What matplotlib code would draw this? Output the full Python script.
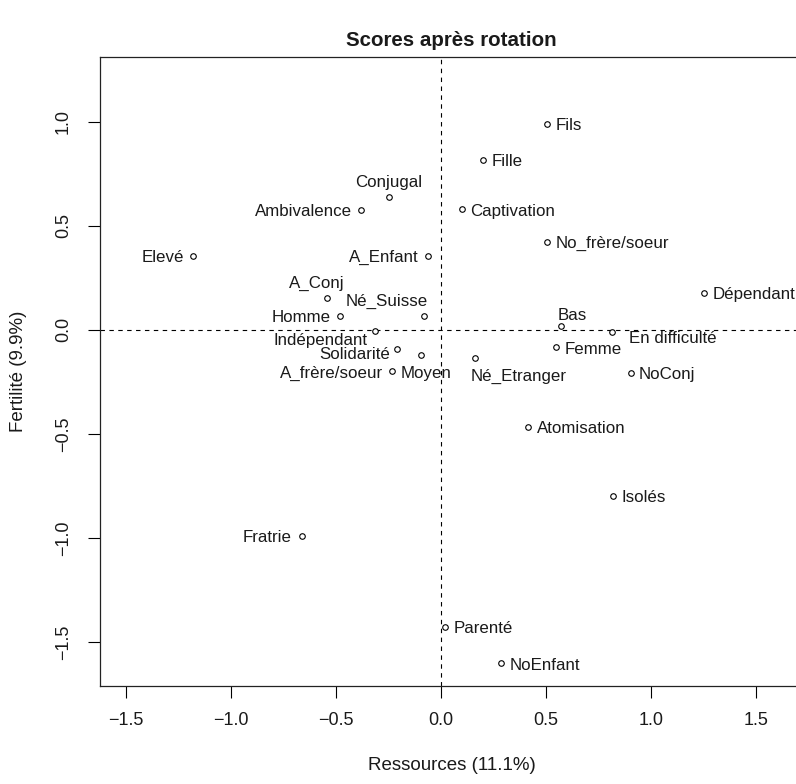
import matplotlib
matplotlib.use("Agg")
import matplotlib.pyplot as plt

# ---- data ----
labels = ["Fils", "Fille", "Conjugal", "Ambivalence", "Captivation", "Elevé",
          "A_Enfant", "No_frère/soeur", "A_Conj", "Dépendant", "Né_Suisse", "Bas",
          "Homme", "En difficulté", "Indépendant", "Femme", "Solidarité", "Moyen",
          "Né_Etranger", "A_frère/soeur", "NoConj", "Atomisation", "Isolés",
          "Fratrie", "Parenté", "NoEnfant"]
x_scores = [0.505, 0.199, -0.249, -0.381, 0.099, -1.181,
            -0.063, 0.505, -0.543, 1.252, -0.079, 0.570,
            -0.483, 0.815, -0.312, 0.548, -0.209, -0.094,
            0.163, -0.235, 0.903, 0.416, 0.820,
            -0.662, 0.020, 0.287]
y_scores = [0.992, 0.819, 0.640, 0.576, 0.579, 0.355,
            0.357, 0.422, 0.152, 0.178, 0.069, 0.017,
            0.069, -0.010, -0.003, -0.084, -0.091, -0.123,
            -0.136, -0.199, -0.208, -0.468, -0.799,
            -0.992, -1.428, -1.603]
x_ticks = [-1.5, -1.0, -0.5, 0.0, 0.5, 1.0, 1.5]
y_ticks = [-1.5, -1.0, -0.5, 0.0, 0.5, 1.0]
title = "Scores après rotation"
xlabel = "Ressources (11.1%)"
ylabel = "Fertilité (9.9%)"

# ---- label placement (pixels: dx, dy of baseline anchor, ha) ----
PX = 0.72  # points per pixel at dpi 100
R = (8.5, -6.2, "left")
L = (-9.0, -6.2, "right")
T = (0.0, 10.0, "center")
place = {
    "Conjugal": T,
    "Ambivalence": L,
    "Elevé": L,
    "A_Enfant": L,
    "A_Conj": (-10.0, 10.0, "center"),
    "Né_Suisse": (3.0, 10.0, "right"),
    "Bas": (-3.0, 6.0, "left"),
    "Homme": L,
    "En difficulté": (17.0, -11.5, "left"),
    "Indépendant": (-8.0, -14.0, "right"),
    "Solidarité": (-7.0, -10.5, "right"),
    "Moyen": (5.0, -22.5, "center"),
    "Né_Etranger": (-5.0, -22.3, "left"),
    "A_frère/soeur": L,
    "Fratrie": (-10.4, -6.2, "right"),
}

plt.rcParams["font.family"] = ["Liberation Sans", "DejaVu Sans"]

fig = plt.figure(figsize=(7.96, 7.84), dpi=100)
W, H = 796.0, 784.0
ax = fig.add_axes([100 / W, (H - 686) / H, 703 / W, 629 / H])
ax.set_xlim(-1.624, 1.724)
ax.set_ylim(-1.712, 1.312)

ax.axhline(0, color="black", lw=0.8, ls=(0, (4, 4)), zorder=1)
ax.axvline(0, color="black", lw=0.8, ls=(0, (4, 4)), zorder=1)

ax.plot(x_scores, y_scores, ls="none", marker="o", ms=4.0, mfc="white",
        mec="black", mew=0.8, zorder=3)

for lab, xv, yv in zip(labels, x_scores, y_scores):
    dx, dy, ha = place.get(lab, R)
    ax.annotate(lab, (xv, yv), xytext=(dx * PX, dy * PX),
                textcoords="offset points", ha=ha, va="baseline",
                fontsize=12.2, color="#1a1a1a")

ax.set_xticks(x_ticks)
ax.set_yticks(y_ticks)
ax.set_xticklabels([f"{v:.1f}".replace("-", "\u2212") for v in x_ticks])
ax.set_yticklabels([f"{v:.1f}".replace("-", "\u2212") for v in y_ticks],
                   rotation=90, va="center")
ax.tick_params(direction="out", length=8.6, width=0.8, labelsize=13,
               colors="black", labelcolor="#1a1a1a")
ax.tick_params(axis="x", pad=10)
ax.tick_params(axis="y", pad=11.5)

for sp in ax.spines.values():
    sp.set_linewidth(0.9)
    sp.set_color("#222222")

ax.set_xlabel(xlabel, fontsize=13.5, color="#1a1a1a")
ax.xaxis.label.set_va("center")
ax.xaxis.set_label_coords((451.7 - 100) / 703, (686 - 765) / 629)
ax.set_ylabel(ylabel, fontsize=13.5, color="#1a1a1a")
ax.yaxis.label.set_va("center")
ax.yaxis.set_label_coords((18.5 - 100) / 703, 0.5)

ax.set_title(title, fontsize=14.8, fontweight="bold", color="#1a1a1a",
             pad=0, y=1 + (57 - 41) / 629, va="center")

fig.savefig("out.png", dpi=100)
